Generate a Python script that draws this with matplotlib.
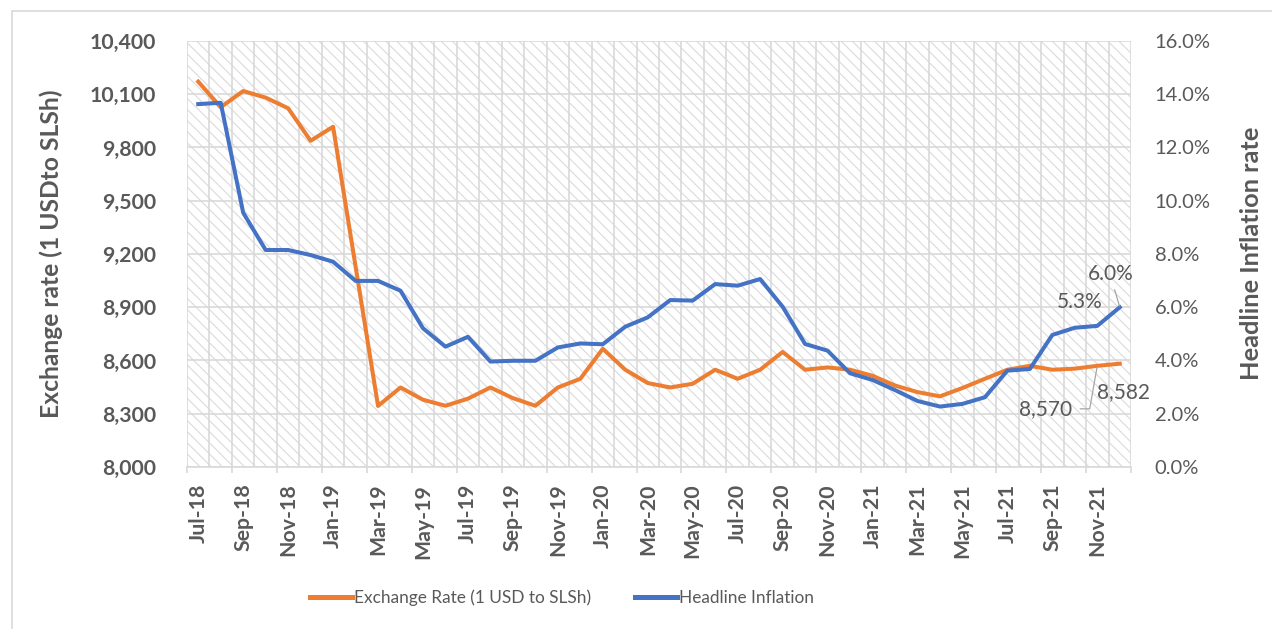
import matplotlib.pyplot as plt
import matplotlib.patches as mpatches
import numpy as np

plt.rcParams['font.family'] = ['Lato', 'DejaVu Sans']
plt.rcParams['hatch.linewidth'] = 0.8

months = [
    "Jul-18", "Aug-18", "Sep-18", "Oct-18", "Nov-18", "Dec-18",
    "Jan-19", "Feb-19", "Mar-19", "Apr-19", "May-19", "Jun-19",
    "Jul-19", "Aug-19", "Sep-19", "Oct-19", "Nov-19", "Dec-19",
    "Jan-20", "Feb-20", "Mar-20", "Apr-20", "May-20", "Jun-20",
    "Jul-20", "Aug-20", "Sep-20", "Oct-20", "Nov-20", "Dec-20",
    "Jan-21", "Feb-21", "Mar-21", "Apr-21", "May-21", "Jun-21",
    "Jul-21", "Aug-21", "Sep-21", "Oct-21", "Nov-21", "Dec-21",
]
exchange_rate = [
    10171, 10027, 10118, 10081, 10021, 9838, 9917, 9130, 8344, 8448,
    8379, 8345, 8385, 8448, 8388, 8345, 8448, 8497, 8666, 8548,
    8473, 8448, 8469, 8548, 8497, 8548, 8648, 8548, 8561, 8548,
    8514, 8459, 8422, 8398, 8445, 8497, 8548, 8570, 8548, 8554,
    8570, 8582,
]
inflation = [
    13.63, 13.68, 9.55, 8.15, 8.15, 7.96, 7.71, 6.99, 6.99, 6.62,
    5.21, 4.52, 4.89, 3.96, 3.99, 3.99, 4.49, 4.64, 4.61, 5.27,
    5.62, 6.27, 6.25, 6.87, 6.81, 7.06, 6.02, 4.62, 4.37, 3.52,
    3.27, 2.89, 2.48, 2.27, 2.37, 2.62, 3.62, 3.68, 4.96, 5.23,
    5.30, 6.00,
]
left_ticks = list(range(8000, 10401, 300))
right_ticks = list(range(0, 17, 2))

ORANGE = "#ED7D31"
BLUE = "#4472C4"
TEXT = "#595959"
GRID = "#d9d9d9"
FS = 14.5

fig = plt.figure(figsize=(12.72, 6.29), dpi=100)
# outer chart border
fig.patches.append(mpatches.Rectangle(
    (12 / 1272, -0.02), 1.1, 1 - 11 / 629 + 0.02,
    transform=fig.transFigure, fill=False, edgecolor=GRID, linewidth=1.2,
))

ax = fig.add_axes([187 / 1272, 1 - 467 / 629, 944 / 1272, 426 / 629])
ax2 = ax.twinx()

x = np.arange(len(months))
n = len(months)

# hatched plot area
ax.add_patch(mpatches.Rectangle(
    (0, 0), 1, 1, transform=ax.transAxes, facecolor="white",
    edgecolor="#dadada", hatch="\\\\\\", linewidth=0, zorder=0,
))

ax.plot(x, exchange_rate, color=ORANGE, linewidth=2.9, zorder=3,
        label="Exchange Rate (1 USD to SLSh)")
ax2.plot(x, inflation, color=BLUE, linewidth=2.9, zorder=3,
         label="Headline Inflation")

ax.set_xlim(-0.5, n - 0.5)
ax.set_ylim(8000, 10400)
ax2.set_ylim(0, 16)

# gridlines
ax.set_yticks(left_ticks)
ax.set_yticklabels([f"{v:,}" for v in left_ticks])
ax.set_xticks(np.arange(-0.5, n, 1), minor=True)
ax.set_xticks(x[::2])
ax.set_xticklabels(months[::2], rotation=90, fontweight="bold",
                   color=TEXT, fontsize=FS + 0.8, va="top")
ax.grid(axis="y", color=GRID, linewidth=1.2, zorder=1)
ax.grid(axis="x", which="minor", color=GRID, linewidth=1.2, zorder=1)
ax.set_axisbelow(True)
ax.tick_params(axis="x", which="both", length=0, pad=12)
ax.tick_params(axis="y", length=0, pad=22, labelsize=FS + 0.8,
               labelcolor=TEXT)
for lbl in ax.get_yticklabels():
    lbl.set_fontweight("bold")
# tick marks below the axis every two months
ax.vlines(np.arange(-0.5, n, 2), -0.015, 0, transform=ax.get_xaxis_transform(),
          color=GRID, linewidth=1.2, clip_on=False)

ax2.set_yticks(right_ticks)
ax2.set_yticklabels([f"{v:.1f}%" for v in right_ticks])
ax2.tick_params(axis="y", length=0, pad=17, labelsize=FS, labelcolor=TEXT)

for a in (ax, ax2):
    for s in a.spines.values():
        s.set_visible(False)
ax.spines["bottom"].set_visible(True)
ax.spines["bottom"].set_color(GRID)
ax.spines["bottom"].set_linewidth(1.2)

ax.set_ylabel("Exchange rate (1 USDto SLSh)", fontsize=17.7,
              fontweight="bold", color=TEXT)
ax.yaxis.set_label_coords((63 - 187) / 944, (467 - 254) / 426)
ax2.set_ylabel("Headline Inflation rate", fontsize=18.3,
               fontweight="bold", color=TEXT, rotation=90)
ax2.yaxis.set_label_coords((1240 - 187) / 944, (467 - 253) / 426)

# data labels
lab_kw = dict(textcoords="offset pixels", ha="center", va="center",
              fontsize=FS + 0.5, color=TEXT, zorder=5)
ax2.annotate(f"{inflation[-1]:.1f}%", (x[-1], inflation[-1]), xytext=(-9, 33),
             arrowprops=dict(arrowstyle="-", color="#a6a6a6", lw=0.9,
                             relpos=(0.55, 0), shrinkA=2, shrinkB=1),
             **lab_kw)
ax2.annotate(f"{inflation[-2]:.1f}%", (x[-2], inflation[-2]), xytext=(-18, 24),
             **lab_kw)
ax.annotate(f"{exchange_rate[-2]:,}", (x[-2], exchange_rate[-2]),
            xytext=(-52, -43),
            arrowprops=dict(arrowstyle="-", color="#a6a6a6", lw=0.9,
                            relpos=(1, 0.5), shrinkA=4, shrinkB=1,
                            connectionstyle="angle,angleA=0,angleB=80,rad=0"),
            **lab_kw)
ax.annotate(f"{exchange_rate[-1]:,}", (x[-1], exchange_rate[-1]),
            xytext=(4, -28), **lab_kw)

h1, l1 = ax.get_legend_handles_labels()
h2, l2 = ax2.get_legend_handles_labels()
leg = fig.legend(h1 + h2, l1 + l2, loc="center", ncol=2,
                 bbox_to_anchor=(562 / 1272, 1 - 598 / 629), frameon=False,
                 fontsize=12.4, handlelength=2.4, handletextpad=0.1,
                 columnspacing=2.6)
for t in leg.get_texts():
    t.set_color(TEXT)
for h in leg.legend_handles:
    h.set_linewidth(3.6)

fig.savefig("out.png", dpi=100)
